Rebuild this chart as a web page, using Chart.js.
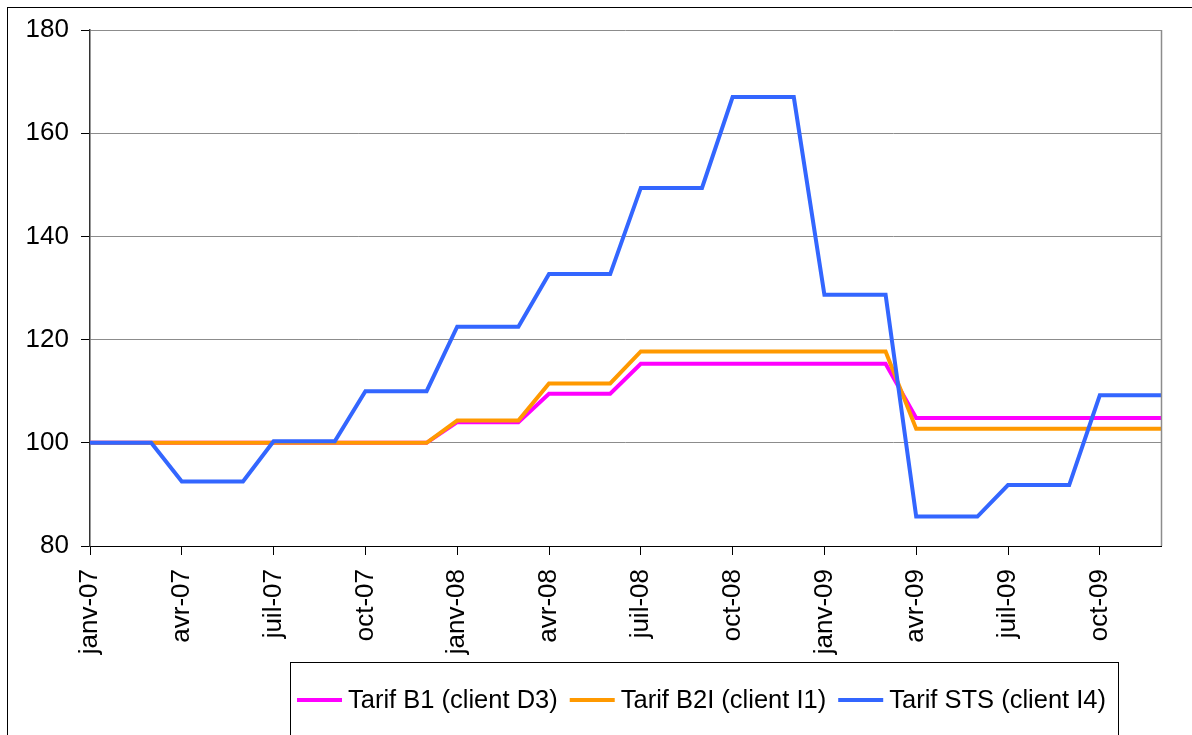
<!DOCTYPE html>
<html>
<head>
<meta charset="utf-8">
<script src="https://cdn.jsdelivr.net/npm/chart.js@4.4.0/dist/chart.umd.min.js"></script>
<style>
  body { margin: 0; background: #fff; }
</style>
</head>
<body>
<canvas id="myChart" width="1192" height="735"></canvas>
<script>
// labels mensuels (un point par mois)
const months = [
  'janv-07', 'févr-07', 'mars-07', 'avr-07', 'mai-07', 'juin-07', 'juil-07', 'août-07', 'sept-07', 'oct-07', 'nov-07', 'déc-07',
  'janv-08', 'févr-08', 'mars-08', 'avr-08', 'mai-08', 'juin-08', 'juil-08', 'août-08', 'sept-08', 'oct-08', 'nov-08', 'déc-08',
  'janv-09', 'févr-09', 'mars-09', 'avr-09', 'mai-09', 'juin-09', 'juil-09', 'août-09', 'sept-09', 'oct-09', 'nov-09', 'déc-09'
];

const tarifB1 = [
  100, 100, 100, 100, 100, 100, 100, 100, 100, 100, 100, 100,
  104, 104, 104, 109.5, 109.5, 109.5, 115.3, 115.3, 115.3, 115.3, 115.3, 115.3,
  115.3, 115.3, 115.3, 104.8, 104.8, 104.8, 104.8, 104.8, 104.8, 104.8, 104.8, 104.8
];

const tarifB2I = [
  100, 100, 100, 100, 100, 100, 100, 100, 100, 100, 100, 100,
  104.3, 104.3, 104.3, 111.5, 111.5, 111.5, 117.7, 117.7, 117.7, 117.7, 117.7, 117.7,
  117.7, 117.7, 117.7, 102.7, 102.7, 102.7, 102.7, 102.7, 102.7, 102.7, 102.7, 102.7
];

const tarifSTS = [
  100, 100, 100, 92.5, 92.5, 92.5, 100.3, 100.3, 100.3, 110, 110, 110,
  122.5, 122.5, 122.5, 132.7, 132.7, 132.7, 149.4, 149.4, 149.4, 167, 167, 167,
  128.7, 128.7, 128.7, 85.7, 85.7, 85.7, 91.8, 91.8, 91.8, 109.2, 109.2, 109.2
];

const seriesNames = ['Tarif B1 (client D3)', 'Tarif B2I (client I1)', 'Tarif STS (client I4)'];
const yTicks = [80, 100, 120, 140, 160, 180];

const FONT = "'Liberation Sans', Arial, sans-serif";
const FONT_SIZE = 26;

// cadre exterieur, bord droit du graphique et legende encadree
const framePlugin = {
  id: 'frame',
  beforeDraw(chart) {
    const ctx = chart.ctx;
    ctx.save();
    ctx.strokeStyle = '#000';
    ctx.lineWidth = 1;
    ctx.strokeRect(7.5, 7.5, 1300, 900);
    ctx.restore();
  },
  afterDatasetsDraw(chart) {
    const a = chart.chartArea;
    const ctx = chart.ctx;
    ctx.save();
    ctx.strokeStyle = '#8c8c8c';
    ctx.lineWidth = 1.5;
    ctx.beginPath();
    ctx.moveTo(a.right + 0.5, a.top);
    ctx.lineTo(a.right + 0.5, a.bottom);
    ctx.stroke();
    ctx.restore();
  },
  afterDraw(chart) {
    const ctx = chart.ctx;
    ctx.save();
    ctx.strokeStyle = '#000';
    ctx.lineWidth = 1;
    ctx.strokeRect(290.5, 662.5, 828, 200);

    ctx.font = '25.5px ' + FONT;
    ctx.textBaseline = 'middle';
    ctx.fillStyle = '#000';
    let x = 297;
    const y = 700;
    chart.data.datasets.forEach((ds) => {
      ctx.strokeStyle = ds.borderColor;
      ctx.lineWidth = 4;
      ctx.beginPath();
      ctx.moveTo(x, y);
      ctx.lineTo(x + 45, y);
      ctx.stroke();
      x += 51;
      ctx.fillText(ds.label, x, y + 1);
      x += ctx.measureText(ds.label).width + 12;
    });
    ctx.restore();
  }
};

const data = {
  labels: months,
  datasets: [{
    label: seriesNames[0],
    data: tarifB1,
    borderColor: '#ff00ff',
    backgroundColor: '#ff00ff',
    order: 3
  }, {
    label: seriesNames[1],
    data: tarifB2I,
    borderColor: '#ff9900',
    backgroundColor: '#ff9900',
    order: 2
  }, {
    label: seriesNames[2],
    data: tarifSTS,
    borderColor: '#3366ff',
    backgroundColor: '#3366ff',
    order: 1
  }]
};

const config = {
  type: 'line',
  data: data,
  options: {
    responsive: false,
    animation: false,
    layout: {
      padding: { left: 0, top: 30, right: 31, bottom: 0 }
    },
    elements: {
      line: { borderWidth: 4, tension: 0 },
      point: { radius: 0 }
    },
    plugins: {
      legend: { display: false },
      tooltip: { enabled: false }
    },
    scales: {
      x: {
        type: 'category',
        offset: false,
        grid: {
          display: true,
          drawOnChartArea: false,
          tickLength: 9,
          tickColor: (c) => (c.index % 3 === 0 ? '#000' : 'rgba(0,0,0,0)')
        },
        border: { display: true, color: '#000', width: 1 },
        ticks: {
          autoSkip: false,
          maxRotation: 90,
          minRotation: 90,
          padding: 14,
          color: '#000',
          font: { family: FONT, size: FONT_SIZE },
          callback: function (val, index) {
            return index % 3 === 0 ? months[index] : '';
          }
        },
        afterFit: (scale) => {
          scale.height = 189;
          scale.paddingLeft = 0;
          scale.paddingRight = 0;
        }
      },
      y: {
        min: 80,
        max: 180,
        afterBuildTicks: (scale) => {
          scale.ticks = yTicks.map((v) => ({ value: v }));
        },
        grid: {
          color: '#8c8c8c',
          lineWidth: 1,
          tickLength: 9,
          tickColor: '#000'
        },
        border: { display: true, color: '#333', width: 1.5 },
        ticks: {
          padding: 12,
          color: '#000',
          font: { family: FONT, size: FONT_SIZE }
        },
        afterFit: (scale) => {
          scale.width = 90;
          scale.paddingTop = 0;
          scale.paddingBottom = 0;
        }
      }
    }
  },
  plugins: [framePlugin]
};

var ctx = document.getElementById('myChart').getContext('2d');
var myChart = new Chart(ctx, config);
</script>
</body>
</html>
